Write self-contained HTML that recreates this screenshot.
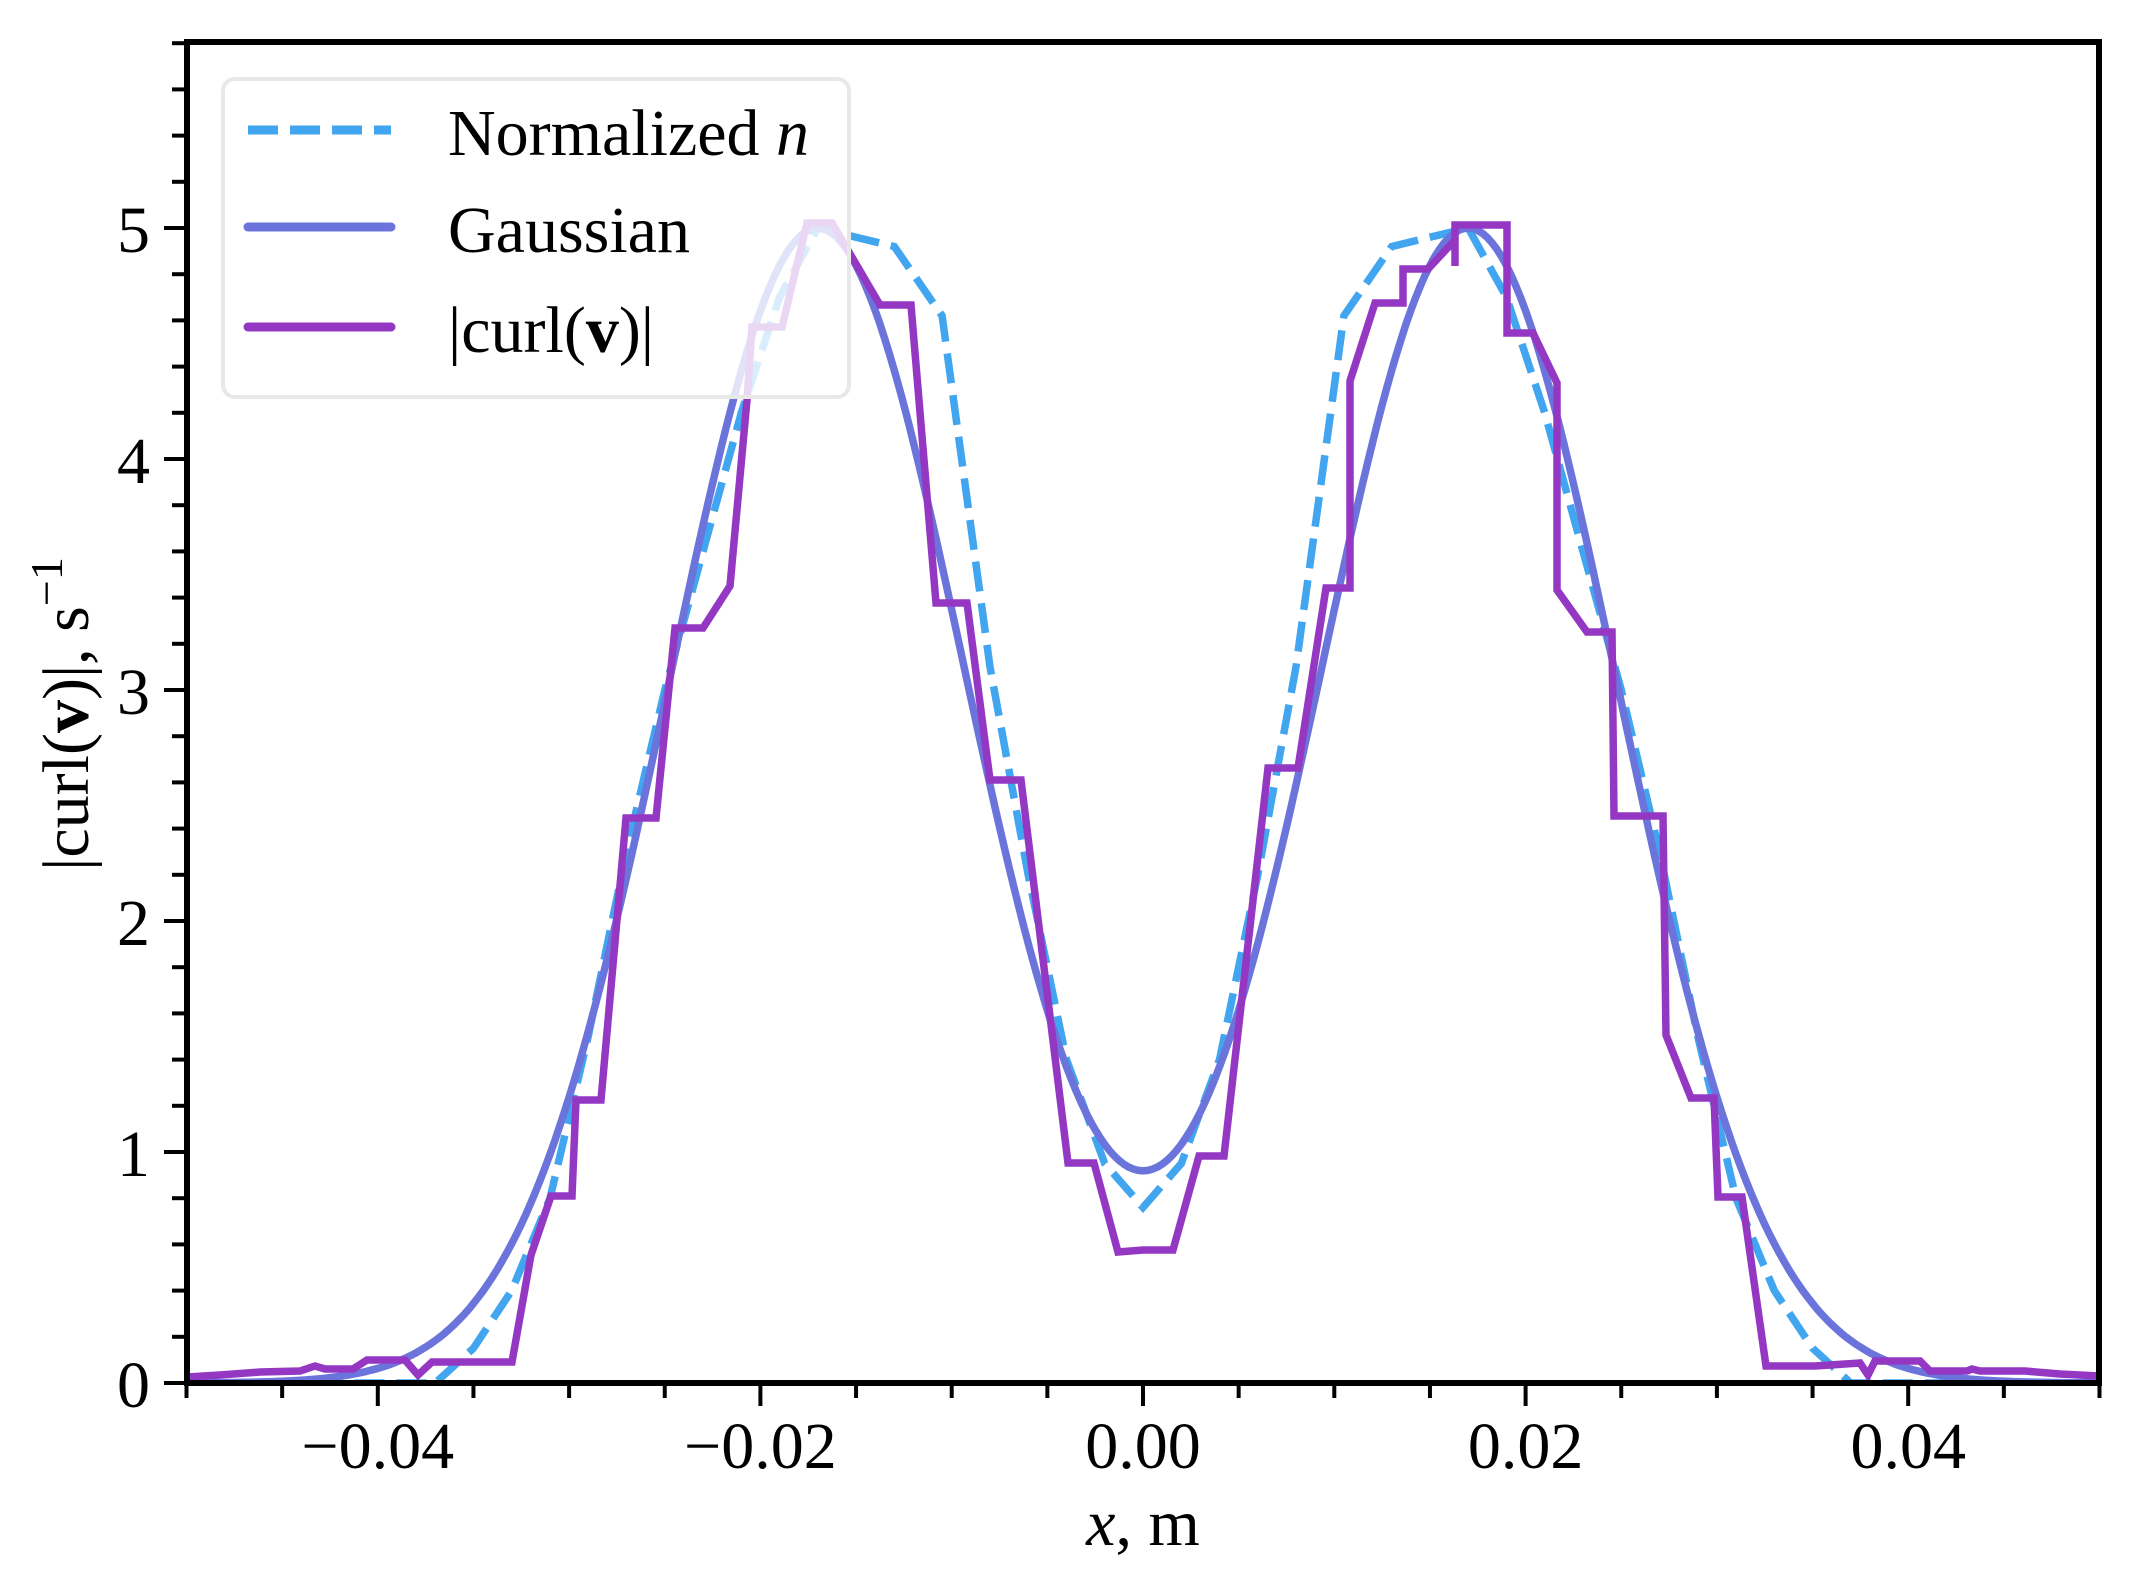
<!DOCTYPE html>
<html><head><meta charset="utf-8"><style>
html,body{margin:0;padding:0;background:#fff}
svg{display:block}
text{font-family:"Liberation Serif",serif;fill:#000}
</style></head><body>
<svg id="s" width="2146" height="1574" viewBox="0 0 2146 1574" xmlns="http://www.w3.org/2000/svg">
<defs><clipPath id="c"><rect x="187" y="42" width="1912" height="1341"/></clipPath></defs>
<rect width="2146" height="1574" fill="#fff"/>
<g clip-path="url(#c)" fill="none" stroke-linejoin="miter" stroke-width="7.5">
<path id="pn" stroke="#42a5f0" stroke-dasharray="30 12"/>
<path id="pg" stroke="#6b74db"/>
<path id="pc" stroke="#9438c4"/>
</g>
<g id="ax" stroke="#000" stroke-width="4"></g>
<rect x="187" y="42" width="1912" height="1341" fill="none" stroke="#000" stroke-width="6"/>
<g id="lab" font-size="66"></g>
<text x="1143" y="1545" font-size="66" text-anchor="middle"><tspan font-style="italic">x</tspan>, m</text>
<text transform="translate(88,714) rotate(-90)" font-size="66" text-anchor="middle">|curl(<tspan font-weight="bold">v</tspan>)|, s<tspan dy="-26" font-size="46">−1</tspan></text>
<rect x="223" y="79" width="626" height="318" rx="12" fill="#fff" fill-opacity="0.8" stroke="#e8e8e8" stroke-width="4"/>
<line x1="248" y1="130" x2="391" y2="130" stroke="#42a5f0" stroke-width="9" stroke-dasharray="30 12"/>
<line x1="248" y1="227" x2="391" y2="227" stroke="#6b74db" stroke-width="9" stroke-linecap="round"/>
<line x1="248" y1="327" x2="391" y2="327" stroke="#9438c4" stroke-width="9" stroke-linecap="round"/>
<text x="448" y="155" font-size="66">Normalized <tspan font-style="italic">n</tspan></text>
<text x="448" y="252" font-size="66">Gaussian</text>
<text x="448" y="352" font-size="66">|curl(<tspan font-weight="bold">v</tspan>)|</text>
</svg>
<script>
var X=function(x){return 1143+x*19130},Y=function(y){return 1383-y*231};
var s=0.00778,a=0.017,A=5.0/(1+Math.exp(-2*a*a/(s*s))),d="";
for(var i=0;i<=400;i++){var x=-0.05+i*0.00025;var v=A*(Math.exp(-(x-a)*(x-a)/(2*s*s))+Math.exp(-(x+a)*(x+a)/(2*s*s)));d+=(i?"L":"M")+X(x).toFixed(1)+","+Y(v).toFixed(1);}
document.getElementById("pg").setAttribute("d",d);
var R=[[0,0.76],[0.002,0.95],[0.004,1.4],[0.006,2.2],[0.008,3.1],[0.0105,4.62],[0.013,4.92],[0.017,5.0],[0.019,4.7],[0.021,4.2],[0.023,3.6],[0.025,3.0],[0.027,2.3],[0.029,1.5],[0.031,0.8],[0.033,0.4],[0.035,0.15],[0.037,0.0],[0.05,0]];
var P=[];for(var i=R.length-1;i>0;i--)P.push([-R[i][0],R[i][1]]);for(i=0;i<R.length;i++)P.push(R[i]);
d="";P.forEach(function(p,i){d+=(i?"L":"M")+X(p[0]).toFixed(1)+","+Y(p[1]).toFixed(1)});
document.getElementById("pn").setAttribute("d",d);
var C=[[187,1377],[220,1375],[260,1372],[300,1371],[315,1366],[325,1369],[353,1369],[367,1360],[405,1360],[418,1375],[432,1362],[512,1362],[531,1255],[551,1196],[572,1196],[576,1100],[601,1100],[626,818],[656,818],[675,628],[703,628],[730,586],[747,400],[752,327],[782,327],[807,223],[832,223],[880,305],[911,305],[936,603],[967,603],[990,780],[1021,780],[1068,1163],[1094,1163],[1118,1252],[1143,1250],[1173,1250],[1199,1156],[1224,1156],[1268,768],[1298,768],[1326,588],[1350,588],[1350,381],[1375,303],[1403,303],[1403,269],[1428,269],[1455,240],[1455,266],[1455,225],[1507,225],[1507,333],[1533,333],[1557,383],[1557,590],[1587,632],[1612,632],[1614,816],[1663,816],[1666,1035],[1691,1098],[1714,1098],[1718,1197],[1742,1197],[1766,1366],[1815,1366],[1860,1363],[1868,1375],[1875,1361],[1920,1361],[1930,1371],[1967,1371],[1972,1369],[1980,1371],[2025,1371],[2060,1374],[2100,1376]];
d="";C.forEach(function(p,i){d+=(i?"L":"M")+p[0]+","+p[1]});
document.getElementById("pc").setAttribute("d",d);
var ax=document.getElementById("ax"),lab=document.getElementById("lab"),NS="http://www.w3.org/2000/svg";
function ln(x1,y1,x2,y2){var l=document.createElementNS(NS,"line");l.setAttribute("x1",x1);l.setAttribute("y1",y1);l.setAttribute("x2",x2);l.setAttribute("y2",y2);ax.appendChild(l);}
function tx(x,y,t,an){var e=document.createElementNS(NS,"text");e.setAttribute("x",x);e.setAttribute("y",y);e.setAttribute("text-anchor",an);e.textContent=t;lab.appendChild(e);}
for(i=-10;i<=10;i++){var x=X(i*0.005);var maj=(i%4==0&&Math.abs(i)<=8);ln(x,1383,x,1383+(maj?23:15));
 if(maj){var v=i*0.005;var t=(v<0?"−":"")+Math.abs(v).toFixed(2);tx(x,1468,t,"middle");}}
for(i=0;i<=29;i++){var y=Y(i*0.2);var maj=(i%5==0);ln(187,y,187-(maj?23:15),y);if(maj)tx(150,y+24,String(i/5),"end");}
</script>
</body></html>
